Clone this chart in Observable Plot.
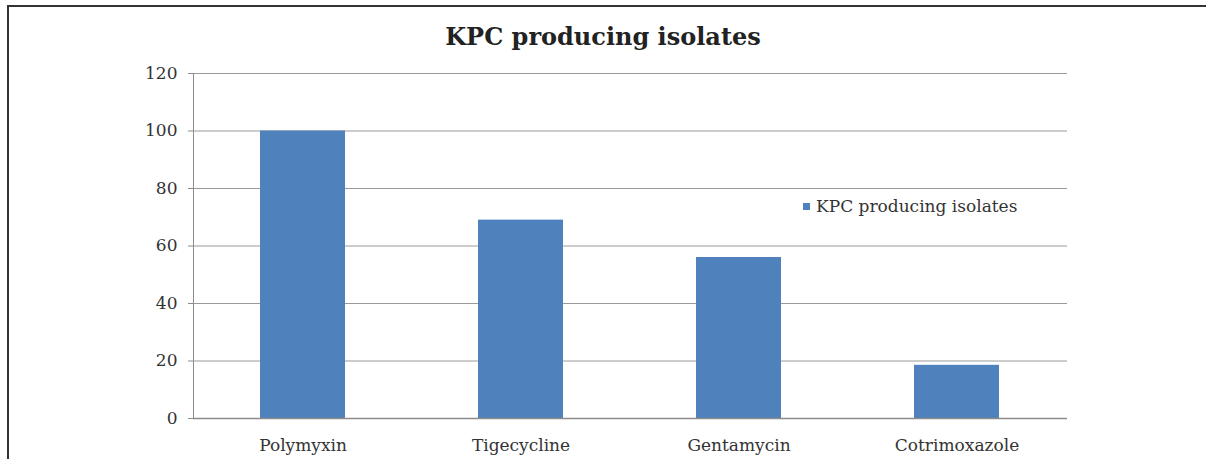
<!DOCTYPE html>
<html>
<head>
<meta charset="utf-8">
<script src="https://cdn.jsdelivr.net/npm/d3@7"></script>
<script src="https://cdn.jsdelivr.net/npm/@observablehq/plot@0.6"></script>
<style>
  html, body { margin: 0; padding: 0; background: #fff; }
  #wrap { position: relative; width: 1206px; height: 459px; overflow: hidden; font-family: "DejaVu Serif", serif; }
  #frame { position: absolute; left: 7px; top: 5px; width: 1300px; height: 470px; border: 2px solid #333; box-sizing: border-box; }
  #title { position: absolute; left: 0; width: 1206px; top: 22px; text-align: center; font-size: 24px; font-weight: bold; color: #222; }
  #legend { position: absolute; left: 803px; top: 196px; font-size: 17px; color: #333; display: flex; align-items: center; }
  #legend .sw { width: 7px; height: 7px; background: #4f81bd; margin-right: 6px; }
  #chart { position: absolute; left: 0; top: 0; }
</style>
</head>
<body>
<div id="wrap">
  <div id="chart"></div>
  <div id="frame"></div>
  <div id="title">KPC producing isolates</div>
  <div id="legend"><span class="sw"></span><span>KPC producing isolates</span></div>
</div>
<script>
const categories = ["Polymyxin", "Tigecycline", "Gentamycin", "Cotrimoxazole"];
const values = [100, 69, 56, 18.5];
const yTicks = [0, 20, 40, 60, 80, 100, 120];
const seriesName = "KPC producing isolates";

const data = categories.map((c, i) => ({category: c, value: values[i]}));

const plot = Plot.plot({
  width: 1206,
  height: 459,
  marginTop: 73,
  marginBottom: 41,
  marginLeft: 193,
  marginRight: 139,
  style: {fontFamily: "DejaVu Serif, serif", fontSize: "17px", color: "#333", background: "transparent"},
  x: {domain: categories, paddingInner: 0.61, paddingOuter: 0.305, label: null},
  y: {domain: [0, 120], label: null},
  marks: [
    Plot.gridY(yTicks, {stroke: "#9a9a9a", strokeOpacity: 1, strokeWidth: 1}),
    Plot.barY(data, {x: "category", y: "value", fill: "#4f81bd"}),
    Plot.ruleY([0], {stroke: "#8c8c8c", strokeWidth: 1.5}),
    Plot.axisY({ticks: yTicks, tickSize: 5, tickPadding: 11, stroke: "#8c8c8c", fill: "#333", label: null}),
    Plot.axisX({tickSize: 0, tickPadding: 20, fill: "#333", label: null}),
    Plot.frame({anchor: "left", stroke: "#8c8c8c"})
  ]
});
document.getElementById("chart").appendChild(plot);
</script>
</body>
</html>
